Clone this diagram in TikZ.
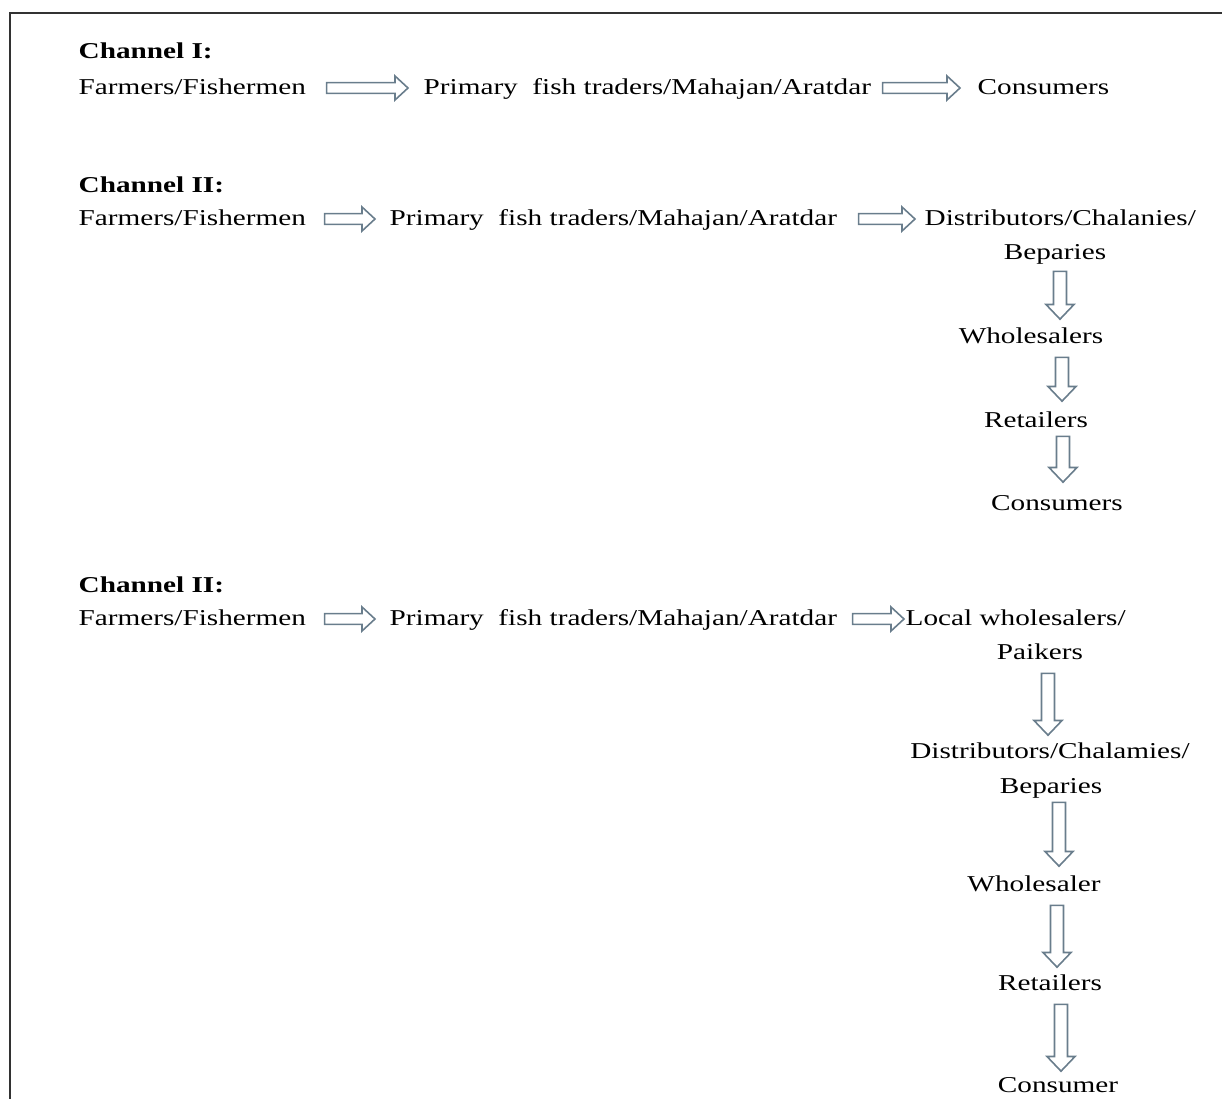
\documentclass[tikz,border=0pt]{standalone}
\usepackage{fontspec}
\setmainfont{Liberation Serif}
\usetikzlibrary{calc}
\definecolor{arrowgray}{RGB}{105,125,140}
\definecolor{framegray}{RGB}{50,50,50}
\tikzset{every picture/.style={line width=0.75pt},
  lbl/.style={inner sep=0pt, xscale=1.29, font=\fontsize{17}{20}\selectfont, text height=11.5pt, text depth=3.6pt},
  chan/.style={lbl, font=\fontsize{17}{20}\selectfont\bfseries},
  blockarrow/.style={draw=arrowgray, line width=1.2pt, fill=white, line join=miter},
  rightblock/.style={to path={let \p1=(\tikztostart), \p2=(\tikztotarget) in
    (\x1,\y1+4pt) -- (\x2-9.75pt,\y1+4pt) -- (\x2-9.75pt,\y1+9pt) -- (\x2,\y1)
    -- (\x2-9.75pt,\y1-9pt) -- (\x2-9.75pt,\y1-4pt) -- (\x1,\y1-4pt) -- cycle}},
  downblock/.style={to path={let \p1=(\tikztostart), \p2=(\tikztotarget) in
    (\x1-4.9pt,\y1) -- (\x1-4.9pt,\y2+11pt) -- (\x1-10.5pt,\y2+11pt) -- (\x1,\y2)
    -- (\x1+10.5pt,\y2+11pt) -- (\x1+4.9pt,\y2+11pt) -- (\x1+4.9pt,\y1) -- cycle}}
}
% hollow block arrows: from node, to node, gaps
\newcommand{\hflow}[4]{\draw[blockarrow] ($(#1.base east)+(#3,-6)$) to[rightblock] ($(#2.base west)+(-#4,-6)$);}
\newcommand{\vflow}[5]{\draw[blockarrow] ($(#1.south -| #3,0)+(0,#4)$) to[downblock] ($(#2.north -| #3,0)+(0,-#5)$);}

\begin{document}
\begin{tikzpicture}[x=0.75pt,y=-0.75pt]
	\useasboundingbox (0,0) rectangle (1222,1099);
	%Frame
	\draw [framegray, line width=1.5pt] (10,1099) -- (10,13) -- (1222,13);

	% Channel I
	\node [chan, anchor=base west] (ch1) at (78,59) {Channel I:};
	\node [lbl, anchor=base west] (f1) at (78,94) {Farmers/Fishermen};
	\node [lbl, anchor=base west] (p1) at (423,94) {Primary\ \ fish traders/Mahajan/Aratdar};
	\node [lbl, anchor=base west] (c1) at (977,94) {Consumers};
	\hflow{f1}{p1}{20}{15}
	\hflow{p1}{c1}{11}{17}

	% Channel II
	\node [chan, anchor=base west] (ch2) at (78,192) {Channel II:};
	\node [lbl, anchor=base west] (f2) at (78,225) {Farmers/Fishermen};
	\node [lbl, anchor=base west] (p2) at (389,225) {Primary\ \ fish traders/Mahajan/Aratdar};
	\node [lbl, anchor=base west] (d2) at (924,225) {Distributors/Chalanies/};
	\node [lbl, anchor=base] (b2) at (1055,259) {Beparies};
	\node [lbl, anchor=base] (w2) at (1031,343) {Wholesalers};
	\node [lbl, anchor=base] (r2) at (1036,427) {Retailers};
	\node [lbl, anchor=base] (c2) at (1057,510) {Consumers};
	\hflow{f2}{p2}{18}{14}
	\hflow{p2}{d2}{21}{9}
	\vflow{b2}{w2}{1060}{7}{8}
	\vflow{w2}{r2}{1062}{9}{10}
	\vflow{r2}{c2}{1063}{4}{12}

	% Channel II (second)
	\node [chan, anchor=base west] (ch3) at (78,592) {Channel II:};
	\node [lbl, anchor=base west] (f3) at (78,625) {Farmers/Fishermen};
	\node [lbl, anchor=base west] (p3) at (389,625) {Primary\ \ fish traders/Mahajan/Aratdar};
	\node [lbl, anchor=base west] (l3) at (905,625) {Local wholesalers/};
	\node [lbl, anchor=base] (k3) at (1040,659) {Paikers};
	\node [lbl, anchor=base] (d3) at (1050,758) {Distributors/Chalamies/};
	\node [lbl, anchor=base] (b3) at (1051,793) {Beparies};
	\node [lbl, anchor=base] (w3) at (1034,891) {Wholesaler};
	\node [lbl, anchor=base] (r3) at (1050,990) {Retailers};
	\node [lbl, anchor=base] (c3) at (1058,1092) {Consumer};
	\hflow{f3}{p3}{18}{14}
	\hflow{p3}{l3}{15}{1}
	\vflow{k3}{d3}{1048}{9}{7}
	\vflow{b3}{w3}{1059}{4}{9}
	\vflow{w3}{r3}{1057}{9}{7}
	\vflow{r3}{c3}{1061}{9}{5}

\end{tikzpicture}
\end{document}
